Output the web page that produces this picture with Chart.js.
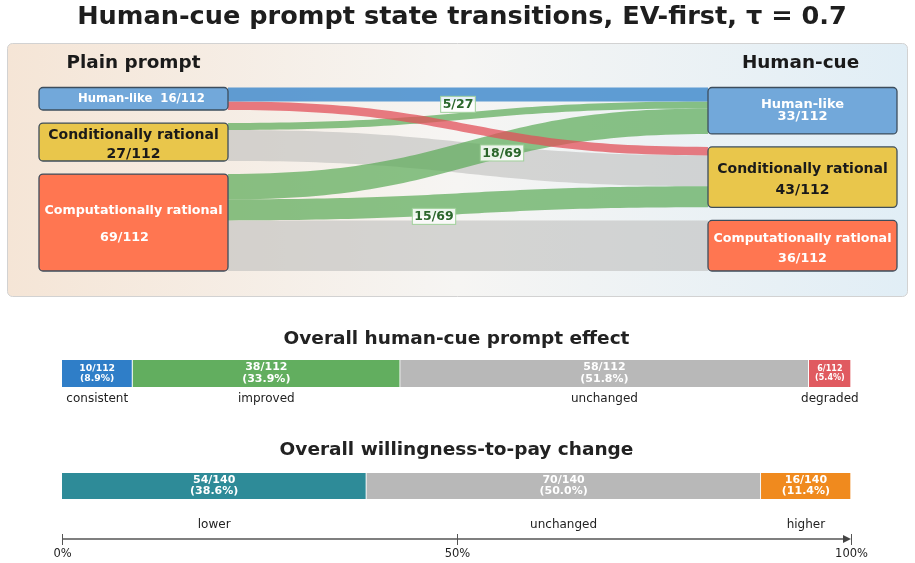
<!DOCTYPE html>
<html>
<head>
<meta charset="utf-8">
<script src="https://cdn.jsdelivr.net/npm/chart.js@4.4.0/dist/chart.umd.min.js"></script>
<style>
  html, body { margin: 0; padding: 0; background: #fff; }
  body { width: 915px; height: 563px; position: relative; overflow: hidden; }
  .box { position: absolute; left: 0; width: 915px; }
</style>
</head>
<body>
<div class="box" style="top:0;height:300px"><canvas id="sankey"></canvas></div>
<div class="box" style="top:318px;height:95px"><canvas id="effect"></canvas></div>
<div class="box" style="top:425px;height:138px"><canvas id="wtp"></canvas></div>
<script>
// ---- data ----
const states = ['Human-like', 'Conditionally rational', 'Computationally rational'];
const plainCounts = [16, 27, 69];
const cueCounts = [33, 43, 36];
const nTotal = 112;
// transitions plain -> human-cue
const flowFrom = [0, 0, 1, 1, 2, 2, 2];
const flowTo = [0, 1, 0, 1, 0, 1, 2];
const flowCounts = [10, 6, 5, 22, 18, 15, 36];

const effectLabels = ['consistent', 'improved', 'unchanged', 'degraded'];
const effectCounts = [10, 38, 58, 6];

const wtpLabels = ['lower', 'unchanged', 'higher'];
const wtpCounts = [54, 70, 16];
const wtpTotal = 140;

const axisTickPct = [0, 50, 100];
const axisTickLabels = ['0%', '50%', '100%'];

// ---- styling ----
const FONT = '"DejaVu Sans", sans-serif';
const GAP = 9.3;          // space between nodes, in count units
const NODE_W = 189 / 858; // node width as a fraction of the x range
const nodeFill = ['#72a8da', '#e9c64b', '#ff7651'];
const nodeInk = ['#ffffff', '#1a1a1a', '#ffffff'];
const nodeText = {
  plain: [{ size: 11.6, dy: [0], dx: [8] }, { size: 14, dy: [-7, 12], dx: [0, 0] }, { size: 12.7, dy: [-11.5, 15.5], dx: [0, -9] }],
  cue: [{ size: 13, dy: [-6.2, 6.3], dx: [0, 0] }, { size: 14, dy: [-7.6, 13.4], dx: [0, 0] }, { size: 12.7, dy: [-6.7, 12.8], dx: [0, 0] }]
};
const flowLabelNudge = { 2: [-10, -11.5], 4: [34, -1], 5: [-34, 13] };

function stack(counts) {
  let y = 0;
  return counts.map(c => { const n = { y0: y, y1: y + c }; y += c + GAP; return n; });
}
const plainNodes = stack(plainCounts);
const cueNodes = stack(cueCounts);

const srcOff = plainNodes.map(n => n.y0);
const dstOff = cueNodes.map(n => n.y0);
const flows = flowCounts.map((v, i) => {
  const f = { i, from: flowFrom[i], to: flowTo[i], v };
  f.s0 = srcOff[f.from]; srcOff[f.from] += v;
  f.t0 = dstOff[f.to]; dstOff[f.to] += v;
  if (f.from === f.to) f.kind = f.to === 0 ? 'consistent' : 'unchanged';
  else f.kind = f.to < f.from ? 'improved' : 'degraded';
  return f;
});
const flowColor = {
  unchanged: 'rgba(190,190,188,0.6)',
  improved: 'rgba(90,170,85,0.7)',
  degraded: 'rgba(226,80,90,0.75)',
  consistent: 'rgba(74,144,206,0.88)'
};
const drawOrder = ['unchanged', 'improved', 'degraded', 'consistent'];

function band(ctx, xa, xb, ya0, ya1, yb0, yb1) {
  const xm = (xa + xb) / 2;
  ctx.beginPath();
  ctx.moveTo(xa, ya0);
  ctx.bezierCurveTo(xm, ya0, xm, yb0, xb, yb0);
  ctx.lineTo(xb, yb1);
  ctx.bezierCurveTo(xm, yb1, xm, ya1, xa, ya1);
  ctx.closePath();
  ctx.fill();
}

const sankeyPlugin = {
  id: 'sankey',
  beforeDraw(chart) {
    const ctx = chart.ctx;
    const g = ctx.createLinearGradient(7, 0, 908, 0);
    g.addColorStop(0, '#f5e5d6');
    g.addColorStop(0.5, '#f6f5f3');
    g.addColorStop(1, '#e1eef6');
    ctx.save();
    ctx.beginPath();
    ctx.roundRect(7.5, 43.5, 900, 253, 5);
    ctx.fillStyle = g;
    ctx.fill();
    ctx.strokeStyle = '#d2d2d2';
    ctx.lineWidth = 1;
    ctx.stroke();
    ctx.restore();
  },
  afterDatasetsDraw(chart) {
    const { ctx, scales: { x, y } } = chart;
    const xa = x.getPixelForValue(NODE_W), xb = x.getPixelForValue(1 - NODE_W);
    ctx.save();
    // flows
    drawOrder.forEach(kind => flows.filter(f => f.kind === kind).forEach(f => {
      ctx.fillStyle = flowColor[kind];
      band(ctx, xa, xb, y.getPixelForValue(f.s0), y.getPixelForValue(f.s0 + f.v),
        y.getPixelForValue(f.t0), y.getPixelForValue(f.t0 + f.v));
    }));
    // nodes
    const drawNodes = (nodes, counts, x0, side) => {
      nodes.forEach((n, k) => {
        const px0 = x.getPixelForValue(x0), px1 = x.getPixelForValue(x0 + NODE_W);
        const py0 = y.getPixelForValue(n.y0), py1 = y.getPixelForValue(n.y1);
        ctx.beginPath();
        ctx.roundRect(px0, py0, px1 - px0, py1 - py0, 4);
        ctx.fillStyle = nodeFill[k];
        ctx.fill();
        ctx.strokeStyle = '#3d4d5c';
        ctx.lineWidth = 1.3;
        ctx.stroke();
        const st = nodeText[side][k];
        const lines = st.dy.length === 1
          ? [states[k] + '  ' + counts[k] + '/' + nTotal]
          : [states[k], counts[k] + '/' + nTotal];
        ctx.fillStyle = nodeInk[k];
        ctx.font = 'bold ' + st.size + 'px ' + FONT;
        ctx.textAlign = 'center';
        ctx.textBaseline = 'middle';
        const cx = (px0 + px1) / 2, cy = (py0 + py1) / 2;
        lines.forEach((t, j) => ctx.fillText(t, cx + st.dx[j], cy + st.dy[j]));
      });
    };
    drawNodes(plainNodes, plainCounts, 0, 'plain');
    drawNodes(cueNodes, cueCounts, 1 - NODE_W, 'cue');
    // labels on improved flows
    ctx.font = 'bold 12.5px ' + FONT;
    flows.filter(f => f.kind === 'improved').forEach(f => {
      const nud = flowLabelNudge[f.i] || [0, 0];
      const mx = (xa + xb) / 2 + nud[0];
      const my = (y.getPixelForValue(f.s0 + f.v / 2) + y.getPixelForValue(f.t0 + f.v / 2)) / 2 + nud[1];
      const txt = f.v + '/' + plainCounts[f.from];
      const w = ctx.measureText(txt).width + 4, h = 16;
      ctx.fillStyle = 'rgba(255,255,255,0.85)';
      ctx.fillRect(mx - w / 2, my - h / 2, w, h);
      ctx.strokeStyle = '#9fd19a';
      ctx.lineWidth = 1;
      ctx.strokeRect(mx - w / 2, my - h / 2, w, h);
      ctx.fillStyle = '#2b662b';
      ctx.fillText(txt, mx, my + 0.5);
    });
    // column headings
    ctx.fillStyle = '#1a1a1a';
    ctx.font = 'bold 18.4px ' + FONT;
    ctx.fillText('Plain prompt', (x.getPixelForValue(0) + x.getPixelForValue(NODE_W)) / 2, 63);
    ctx.fillText('Human-cue', (x.getPixelForValue(1 - NODE_W) + x.getPixelForValue(1)) / 2 - 2, 63);
    ctx.restore();
  }
};

new Chart(document.getElementById('sankey'), {
  type: 'scatter',
  data: { datasets: [] },
  options: {
    responsive: true, maintainAspectRatio: false, animation: false,
    layout: { padding: { left: 27, right: 18, top: 0, bottom: 29 } },
    scales: {
      x: { type: 'linear', display: false, min: -12 / 858, max: 1 },
      y: { type: 'linear', display: false, min: 0, max: nTotal + 2 * GAP, reverse: true }
    },
    plugins: {
      legend: { display: false }, tooltip: { enabled: false },
      title: {
        display: true, text: 'Human-cue prompt state transitions, EV-first, τ = 0.7',
        color: '#1e1e1e', font: { family: FONT, size: 25.6, weight: 'bold' },
        padding: { top: 1.5, bottom: 55.3 }
      }
    }
  },
  plugins: [sankeyPlugin]
});

// ---- stacked bars ----
function segmentPlugin(labels, total, labelGap) {
  return {
    id: 'segLabels',
    afterDatasetsDraw(chart) {
      const ctx = chart.ctx;
      ctx.save();
      ctx.textAlign = 'center';
      ctx.textBaseline = 'middle';
      chart.data.datasets.forEach((ds, i) => {
        const bar = chart.getDatasetMeta(i).data[0];
        const w = Math.abs(bar.x - bar.base);
        const cx = (bar.x + bar.base) / 2;
        const v = ds.data[0];
        const size = w < 50 ? 8 : (w < 80 ? 9.3 : 11);
        ctx.fillStyle = '#ffffff';
        ctx.font = 'bold ' + size + 'px ' + FONT;
        ctx.fillText(v + '/' + total, cx, bar.y - size * 0.55);
        ctx.fillText('(' + (v / total * 100).toFixed(1) + '%)', cx, bar.y + size * 0.5);
        ctx.fillStyle = '#222';
        ctx.font = '12px ' + FONT;
        ctx.fillText(labels[i], cx, bar.y + bar.height / 2 + labelGap);
      });
      ctx.restore();
    }
  };
}

function barOptions(title, total, titleTop, bottomPad) {
  return {
    indexAxis: 'y',
    responsive: true, maintainAspectRatio: false, animation: false,
    layout: { padding: { left: 62, right: 64, top: 0, bottom: bottomPad } },
    scales: {
      x: { stacked: true, display: false, min: 0, max: total },
      y: { stacked: true, display: false }
    },
    plugins: {
      legend: { display: false }, tooltip: { enabled: false },
      title: {
        display: true, text: title, color: '#222',
        font: { family: FONT, size: 18.5, weight: 'bold' },
        padding: { top: titleTop, bottom: 0 }
      }
    }
  };
}

const effectColors = ['#2f7ec8', '#62ae5f', '#b8b8b8', '#e05a60'];
new Chart(document.getElementById('effect'), {
  type: 'bar',
  data: {
    labels: ['effect'],
    datasets: effectLabels.map((l, i) => ({
      label: l, data: [effectCounts[i]], backgroundColor: effectColors[i],
      borderColor: '#ffffff', borderWidth: { left: 0, right: 1, top: 0, bottom: 0 },
      borderSkipped: false, barThickness: 27
    }))
  },
  options: barOptions('Overall human-cue prompt effect', nTotal, 10, 16),
  plugins: [segmentPlugin(effectLabels, nTotal, 11.5)]
});

const wtpColors = ['#2e8b98', '#b8b8b8', '#f08a1e'];
const axisPlugin = {
  id: 'pctAxis',
  afterDraw(chart) {
    const { ctx, chartArea, scales: { x } } = chart;
    const ay = chartArea.bottom + 28;
    const x0 = x.getPixelForValue(0), x1 = x.getPixelForValue(wtpTotal);
    ctx.save();
    ctx.strokeStyle = '#555';
    ctx.fillStyle = '#444';
    ctx.lineWidth = 1.5;
    ctx.beginPath();
    ctx.moveTo(x0, ay);
    ctx.lineTo(x1 - 4, ay);
    ctx.stroke();
    ctx.beginPath();
    ctx.moveTo(x1, ay);
    ctx.lineTo(x1 - 8, ay - 4);
    ctx.lineTo(x1 - 8, ay + 4);
    ctx.closePath();
    ctx.fill();
    ctx.lineWidth = 1;
    ctx.font = '11.5px ' + FONT;
    ctx.textAlign = 'center';
    ctx.textBaseline = 'middle';
    axisTickPct.forEach((p, i) => {
      const px = Math.round(x.getPixelForValue(wtpTotal * p / 100)) + 0.5;
      ctx.beginPath();
      ctx.moveTo(px, ay - 5);
      ctx.lineTo(px, ay + 6);
      ctx.stroke();
      ctx.fillStyle = '#222';
      ctx.fillText(axisTickLabels[i], px, ay + 15);
    });
    ctx.restore();
  }
};

new Chart(document.getElementById('wtp'), {
  type: 'bar',
  data: {
    labels: ['wtp'],
    datasets: wtpLabels.map((l, i) => ({
      label: l, data: [wtpCounts[i]], backgroundColor: wtpColors[i],
      borderColor: '#ffffff', borderWidth: { left: 0, right: 1, top: 0, bottom: 0 },
      borderSkipped: false, barThickness: 26
    }))
  },
  options: barOptions('Overall willingness-to-pay change', wtpTotal, 14, 52),
  plugins: [segmentPlugin(wtpLabels, wtpTotal, 26), axisPlugin]
});
</script>
</body>
</html>
